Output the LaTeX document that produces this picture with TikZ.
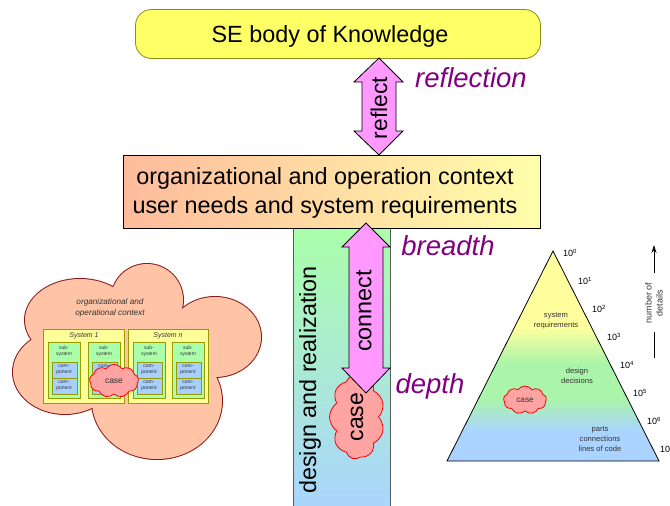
\documentclass[tikz,border=0pt]{standalone}
\usepackage{fontspec}
\setmainfont{Liberation Sans}
\usetikzlibrary{shapes.symbols,arrows.meta}
\definecolor{sebyellow}{HTML}{FFFF66}
\definecolor{sebborder}{HTML}{8C8C1A}
\definecolor{arrowpink}{HTML}{FF99FF}
\definecolor{ctxleft}{HTML}{FFBB9C}
\definecolor{ctxright}{HTML}{FFFFAA}
\definecolor{bargreen}{HTML}{AAFFAA}
\definecolor{barblue}{HTML}{AAD4FF}
\definecolor{purp}{HTML}{800080}
\definecolor{cloudfill}{HTML}{FFC4A6}
\definecolor{cloudline}{HTML}{8B1A1A}
\definecolor{sysfill}{HTML}{FFFF99}
\definecolor{olivec}{HTML}{999900}
\definecolor{subfill}{HTML}{AAFFAA}
\definecolor{compfill}{HTML}{A8D0FF}
\definecolor{casefill}{HTML}{FFA3A3}
\definecolor{pyellow}{HTML}{FFFF9E}
\definecolor{pgreen}{HTML}{AAF5AA}
\definecolor{pblue}{HTML}{AAD4FF}
\definecolor{smalltxt}{HTML}{333333}
\pgfdeclareverticalshading{pyrshade}{100bp}{color(0bp)=(pblue); color(32bp)=(pblue); color(40bp)=(pgreen); color(48bp)=(pgreen); color(57bp)=(pyellow); color(100bp)=(pyellow)}
\begin{document}
\begin{tikzpicture}[x=1pt,y=-1pt,
  txt/.style={inner sep=0pt, outer sep=0pt},
  bigtxt/.style={txt, font=\fontsize{23.4}{26}\selectfont},
  dblarrow/.style={draw=black, fill=arrowpink, line width=0.8pt, line join=miter},
  purptxt/.style={txt, text=purp, font=\fontsize{27.5}{30}\selectfont\itshape},
  casecloud/.style={cloud, cloud puffs=9, cloud puff arc=110, cloud ignores aspect, draw=red, fill=casefill, line width=0.8pt, inner sep=0pt},
  sysbox/.style={draw=olivec, fill=sysfill, line width=0.9pt, anchor=north west, inner sep=0pt, minimum width=81, minimum height=74},
  subbox/.style={draw=olivec, fill=subfill, line width=0.9pt, anchor=north west, inner sep=0pt, minimum width=32, minimum height=56},
  compbox/.style={draw=olivec, fill=compfill, line width=0.9pt, anchor=north west, inner sep=0pt, minimum width=25, minimum height=16},
  tinytxt/.style={txt, text=smalltxt, align=center, font=\fontsize{5}{6}\selectfont},
  pyrtxt/.style={txt, text=black!80, align=center, font=\fontsize{7.6}{10}\selectfont},
  exptxt/.style={txt, anchor=west, font=\fontsize{9}{10}\selectfont},
 ]
\useasboundingbox (0,0) rectangle (670,506);

% ---- top box
\node[draw=sebborder, fill=sebyellow, rounded corners=16, minimum width=405, minimum height=49, line width=0.8pt] (sebok) at (338,34) {};
\node[bigtxt, anchor=base] (sebokt) at (330,42) {SE body of Knowledge};

% ---- design and realization bar
\node[draw=black!65, top color=bargreen, bottom color=barblue, minimum width=97, minimum height=284, inner sep=0pt, line width=0.8pt] (dr) at (341.5,370) {};
\node[bigtxt, rotate=90] (drt) at (310,380) {design and realization};

% ---- context box
\node[draw=black, left color=ctxleft, right color=ctxright, minimum width=417, minimum height=73, inner sep=0pt, line width=0.8pt] (ctx) at (331.5,191.5) {};
\node[bigtxt, anchor=base] (ctx1) at (325,184) {organizational and operation context};
\node[bigtxt, anchor=base] (ctx2) at (325,213) {user needs and system requirements};

% ---- reflect arrow
\draw[dblarrow] (379,58) -- (354,82) -- (362,82) -- (362,131) -- (354,131) -- (379,155) -- (403,131) -- (396,131) -- (396,82) -- (403,82) -- cycle;
\node[txt, rotate=90, font=\fontsize{22.8}{24}\selectfont] (reflt) at (379,108) {reflect};
\node[purptxt, anchor=base] (reflection) at (471,87) {reflection};

% ---- case in bar
\node[casecloud, rotate=90, minimum width=84, minimum height=55, font=\fontsize{23}{24}\selectfont] (casebar) at (357,417) {case};

% ---- connect arrow
\draw[dblarrow] (366,223) -- (342,247) -- (349,247) -- (349,368) -- (342,368) -- (366,393) -- (390,368) -- (383,368) -- (383,247) -- (390,247) -- cycle;
\node[txt, rotate=90, font=\fontsize{23.4}{25}\selectfont] (connt) at (364,311) {connect};
\node[purptxt, anchor=base] (breadth) at (448,255) {breadth};
\node[purptxt, anchor=base] (depth) at (430,393) {depth};

% ---- left cloud
\begin{scope}
\foreach \cx/\cy/\rx/\ry in {80/320/55/41, 147/300/36/36, 215/337/46/40, 157/401/65/58, 65/372/52/42}
  \draw[cloudline, line width=2pt] (\cx,\cy) ellipse [x radius=\rx, y radius=\ry];
\foreach \cx/\cy/\rx/\ry in {80/320/55/41, 147/300/36/36, 215/337/46/40, 157/401/65/58, 65/372/52/42, 130/360/90/40}
  \fill[cloudfill] (\cx,\cy) ellipse [x radius=\rx, y radius=\ry];
\end{scope}
\node[txt, align=center, text=smalltxt, font=\fontsize{8.2}{11}\selectfont\itshape] (orgctx) at (110,308) {organizational and\\operational context};

\node[sysbox] (sys1) at (43,329) {};
\node[sysbox, minimum width=80] (sysn) at (128,329) {};
\node[txt, text=smalltxt, font=\fontsize{7}{8}\selectfont\itshape] (sys1t) at (84,336) {System 1};
\node[txt, text=smalltxt, font=\fontsize{7}{8}\selectfont\itshape] (sysnt) at (168,336) {System n};

\foreach \sx/\nm in {48/a, 88/b, 133/c, 172/d}{
  \node[subbox] (sub\nm) at (\sx,342) {};
  \node[tinytxt] (subt\nm) at (\sx+16,351) {sub-\\system};
  \node[compbox] (compa\nm) at (\sx+3.5,362) {};
  \node[compbox] (compb\nm) at (\sx+3.5,378) {};
  \node[tinytxt] (compat\nm) at (\sx+16,370) {com-\\ponent};
  \node[tinytxt] (compbt\nm) at (\sx+16,386) {com-\\ponent};
}
\node[casecloud, minimum width=49, minimum height=33, text=smalltxt, font=\fontsize{8.5}{9}\selectfont] (caseleft) at (114,381) {case};

% ---- pyramid
\coordinate (apex) at (553,251);
\coordinate (bl) at (447,461);
\coordinate (br) at (659,461);
\path[shading=pyrshade] (apex) -- (bl) -- (br) -- cycle;
\draw[black, line width=0.8pt, line join=miter] (apex) -- (bl) -- (br) -- cycle;
\node[pyrtxt] (sysreq) at (556,321) {system\\requirements};
\node[pyrtxt] (desdec) at (577,376) {design\\decisions};
\node[pyrtxt] (parts) at (600,439) {parts\\connections\\lines of code};
\node[casecloud, minimum width=43, minimum height=28, text=smalltxt, font=\fontsize{8.2}{9}\selectfont] (casepyr) at (525,400) {case};

\node[exptxt] (e0) at (563,253) {10\textsuperscript{0}};
\node[exptxt] (e1) at (578,281) {10\textsuperscript{1}};
\node[exptxt] (e2) at (592,309) {10\textsuperscript{2}};
\node[exptxt] (e3) at (607,337) {10\textsuperscript{3}};
\node[exptxt] (e4) at (620,365) {10\textsuperscript{4}};
\node[exptxt] (e5) at (633,393) {10\textsuperscript{5}};
\node[exptxt] (e6) at (647,421) {10\textsuperscript{6}};
\node[exptxt] (e7) at (660,449) {10\textsuperscript{7}};

\coordinate (nda) at (654,245);
\coordinate (ndb) at (654,273);
\coordinate (ndc) at (654,332);
\coordinate (ndd) at (654,358);
\draw[line width=0.8pt, -{Stealth[length=8pt,width=5pt]}] (ndb) -- (nda);
\draw[line width=0.8pt] (ndd) -- (ndc);
\node[txt, rotate=90, align=center, text=smalltxt, font=\fontsize{9}{11}\selectfont] (ndt) at (654,303) {number of\\details};
\end{tikzpicture}
\end{document}
